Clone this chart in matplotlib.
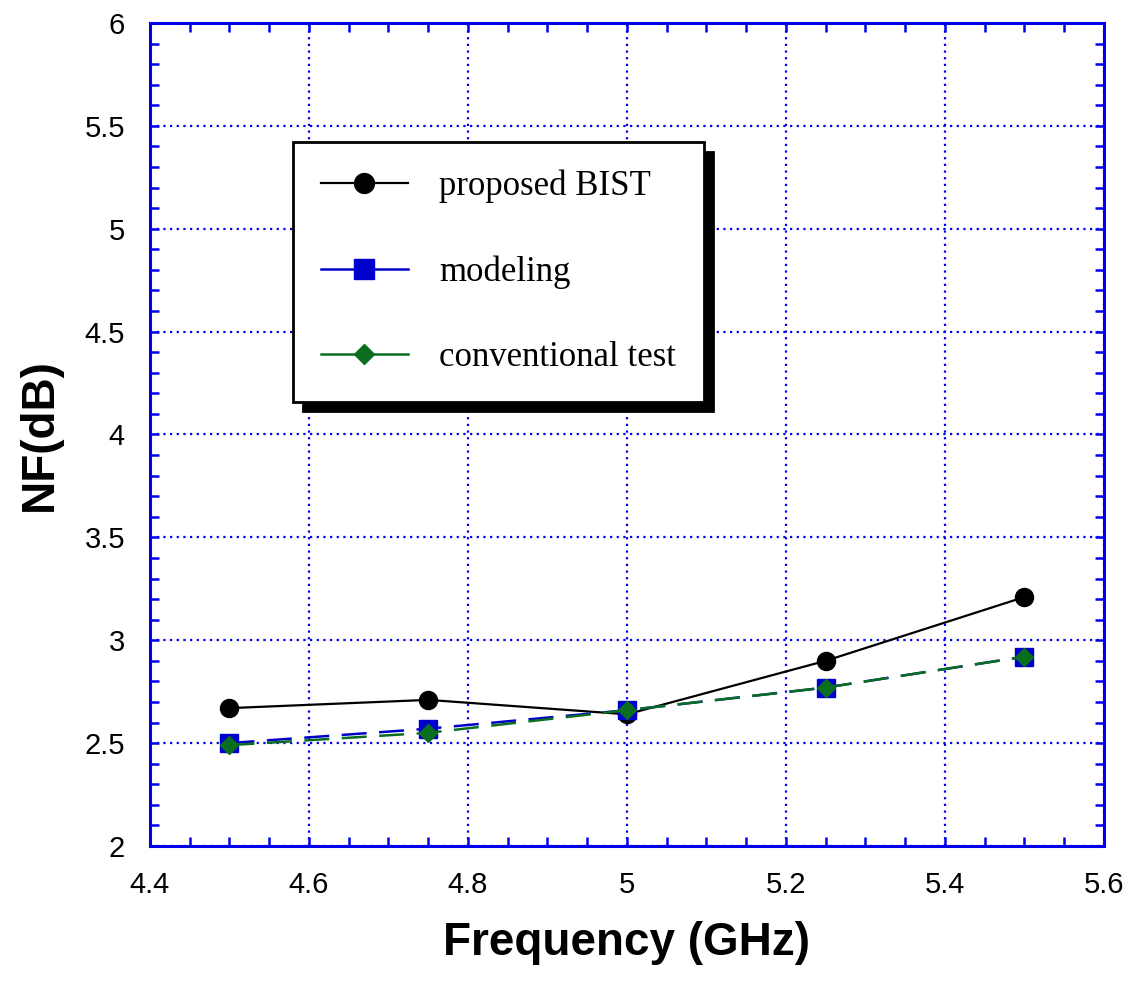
import matplotlib.pyplot as plt
from matplotlib.ticker import MultipleLocator

freqGHz = [4.5, 4.75, 5.0, 5.25, 5.5]
nfBist = [2.67, 2.71, 2.64, 2.90, 3.21]
nfModeling = [2.50, 2.57, 2.66, 2.77, 2.92]
nfConventional = [2.49, 2.55, 2.66, 2.77, 2.92]

axisBlue = "#0000ee"

fig = plt.figure(figsize=(11.31, 9.83), dpi=100)
ax = fig.add_axes([0.1326, 0.1394, 0.8435, 0.8372])

ax.plot(freqGHz, nfBist, color="black", lw=1.6, marker="o", ms=13,
        label="proposed BIST", zorder=4)
ax.plot(freqGHz, nfModeling, color="#0000cc", lw=1.8, marker="s", ms=13,
        dashes=[10, 5], label="modeling", zorder=5)
ax.plot(freqGHz, nfConventional, color="#0a6e1e", lw=1.8, marker="D", ms=9,
        dashes=[10, 5], label="conventional test", zorder=6)

ax.set_xlim(4.4, 5.6)
ax.set_ylim(2, 6)
ax.xaxis.set_minor_locator(MultipleLocator(0.05))
ax.yaxis.set_minor_locator(MultipleLocator(0.1))
ax.set_xticks([4.4, 4.6, 4.8, 5.0, 5.2, 5.4, 5.6])
ax.set_xticklabels(["4.4", "4.6", "4.8", "5", "5.2", "5.4", "5.6"])
ax.set_yticks([2, 2.5, 3, 3.5, 4, 4.5, 5, 5.5, 6])
ax.set_yticklabels(["2", "2.5", "3", "3.5", "4", "4.5", "5", "5.5", "6"])

ax.grid(True, which="major", color=axisBlue, linestyle=(0, (1, 2)), lw=1.6)
for s in ax.spines.values():
    s.set_color(axisBlue)
    s.set_linewidth(2.2)
ax.tick_params(which="both", direction="in", top=True, right=True,
               color=axisBlue, width=1.8, length=6.5, labelcolor="black")
ax.tick_params(axis="both", which="major", labelsize=21, pad=18)
for lab in ax.get_xticklabels() + ax.get_yticklabels():
    lab.set_fontfamily("Liberation Sans")

ax.set_xlabel("Frequency (GHz)", fontsize=33, fontweight="bold",
              family="Liberation Sans", labelpad=16)
ax.set_ylabel("NF(dB)", fontsize=33, fontweight="bold",
              family="Liberation Sans", labelpad=16)

leg = ax.legend(loc="upper left", bbox_to_anchor=(0.1499, 0.8554),
                borderaxespad=0,
                prop={"family": "Liberation Serif", "size": 25},
                handlelength=2.5, handletextpad=0.9, labelspacing=1.5,
                borderpad=0.8, fancybox=False, framealpha=1, markerscale=1.1,
                shadow={"ox": 7, "oy": -7, "color": "black", "alpha": 1})
leg.get_frame().set_edgecolor("black")
leg.get_frame().set_linewidth(2)
for h in leg.get_lines():
    h.set_linestyle("-")

fig.savefig("out.png", dpi=100)
